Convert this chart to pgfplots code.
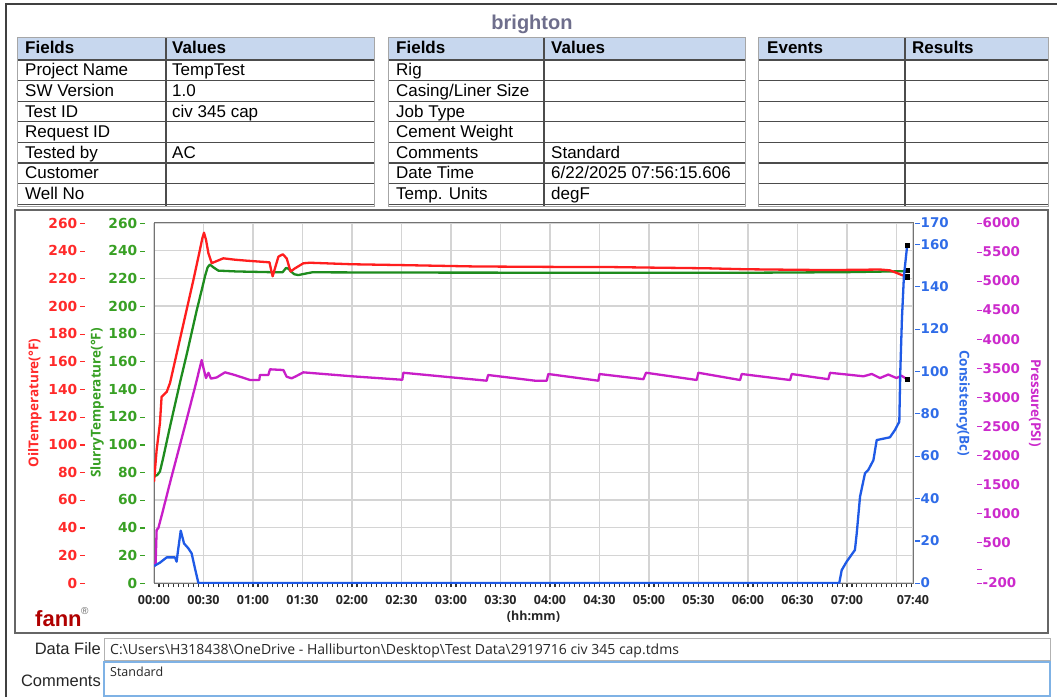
\documentclass[border=0pt]{standalone}
\usepackage{pgfplots}
\pgfplotsset{compat=1.18}
\usepackage{fontspec}
\setmainfont{Liberation Sans}
\newfontfamily\osans{Open Sans}
\newfontfamily\dvs{DejaVu Sans}
\newcommand\fs[1]{\fontsize{#1}{#1}\selectfont}
\definecolor{cRed}{HTML}{FF1E1E}
\definecolor{cGreen}{HTML}{1E8C1E}
\definecolor{cBlue}{HTML}{1F5AE6}
\definecolor{cMag}{HTML}{C81EC8}
\definecolor{tRed}{HTML}{FF2A2A}
\definecolor{tGreen}{HTML}{38A024}
\definecolor{tBlue}{HTML}{2F6CE8}
\definecolor{tMag}{HTML}{CC2ACC}
\definecolor{hdr}{HTML}{C7D7EE}
\definecolor{ttl}{HTML}{6E6E8C}
\definecolor{fannred}{HTML}{B00000}
\definecolor{gridc}{HTML}{D4D4D4}
\definecolor{cbox}{HTML}{7FB2E5}
\newcommand\tmL{\hspace{3pt}\rule[4pt]{4.5pt}{1.2pt}}
\newcommand\tmR{\rule[4pt]{4.5pt}{1.2pt}\hspace{1pt}}
\newcommand\tabfont{\fs{17}}
\newcommand\tablebox[3]{%
 \fill[hdr] (#1,38) rectangle (#2,60);
 \foreach \yy in {60,80.6,101.2,121.8,142.4,163,183.6,204.2} \draw[black!70, line width=1.3pt] (#1,\yy) -- (#2,\yy);
 \draw[black!70, line width=1.3pt] (#3,38) -- (#3,207);
 \draw[black!35, line width=1pt] (#1,38) rectangle (#2,207);
}
\newcommand\cell[3]{\node[anchor=base west, inner sep=0pt, font=\tabfont] at (#1,#2) {#3};}
\newcommand\hcell[3]{\node[anchor=base west, inner sep=0pt, font=\tabfont\bfseries] at (#1,#2) {#3};}
\pgfplotsset{base/.style={scale only axis, width=759pt, height=360pt, at={(154pt,114pt)}, anchor=south west,
  xmin=0, xmax=460, major tick length=0pt, tick align=outside,
  /pgf/number format/assume math mode=true, /pgf/number format/1000 sep={}}}
\begin{document}
\begin{tikzpicture}[x=1pt,y=1pt]
\path[use as bounding box] (0,0) rectangle (1057,697);
\fill[white] (0,0) rectangle (1057,697);
\begin{scope}[shift={(0,697)}, yscale=-1]
 % outer frame
 \draw[black!75, line width=1.2pt] (6,697) -- (6,4) -- (1057,4);
 % title
 \node[anchor=base, inner sep=0pt, font=\fs{20}\bfseries, text=ttl] at (532,29.5) {brighton};
 % tables
 \tablebox{17}{374}{166}
 \tablebox{388}{745}{544}
 \tablebox{758}{1048}{905}
 \hcell{25}{54}{Fields}\hcell{172}{54}{Values}
 \cell{25}{76}{Project Name}\cell{172}{76}{TempTest}
 \cell{25}{96.6}{SW Version}\cell{172}{96.6}{1.0}
 \cell{25}{117.2}{Test ID}\cell{172}{117.2}{civ 345 cap}
 \cell{25}{137.8}{Request ID}
 \cell{25}{158.4}{Tested by}\cell{172}{158.4}{AC}
 \cell{25}{179}{Customer}
 \cell{25}{199.6}{Well No}
 \hcell{396}{54}{Fields}\hcell{551}{54}{Values}
 \cell{396}{76}{Rig}
 \cell{396}{96.6}{Casing/Liner Size}
 \cell{396}{117.2}{Job Type}
 \cell{396}{137.8}{Cement Weight}
 \cell{396}{158.4}{Comments}\cell{551}{158.4}{Standard}
 \cell{396}{179}{Date Time}\cell{551}{179}{6/22/2025 07:56:15.606}
 \cell{396}{199.6}{Temp. Units}\cell{551}{199.6}{degF}
 \hcell{767}{54}{Events}\hcell{912}{54}{Results}
 % chart box
 \draw[black!60, line width=1.5pt] (15,210) rectangle (1048,633);
 % fann logo
 \node[anchor=base west, inner sep=0pt, font=\fs{22}\bfseries, text=fannred] at (35,626) {fann};
 \node[anchor=base west, inner sep=0pt, font=\fs{10}, text=black!60] at (81,614) {\textregistered};
 % bottom boxes
 \draw[black!30, line width=0.8pt] (104,638) rectangle (1050,660);
 \draw[cbox, line width=1.2pt] (104,662) rectangle (1050,696);
 \node[anchor=base east, inner sep=0pt, font=\fs{16.5}, text=black!85] at (101,654) {Data File};
 \node[anchor=base east, inner sep=0pt, font=\fs{16.5}, text=black!85] at (101,686) {Comments};
 \node[anchor=base west, inner sep=0pt, font=\osans\fs{14}, text=black!85] at (110,654) {C:\textbackslash Users\textbackslash H318438\textbackslash OneDrive - Halliburton\textbackslash Desktop\textbackslash Test Data\textbackslash 2919716 civ 345 cap.tdms};
 \node[anchor=base west, inner sep=0pt, font=\osans\fs{12.5}, text=black!85] at (110,676) {Standard};
\end{scope}

% Axis 1: grid, frame, x ticks, green y ticks
\begin{axis}[base, ymin=0, ymax=260,
  grid=major, grid style={gridc, line width=1.2pt},
  axis line style={draw=black!55, line width=1pt},
  xtick={0,30,60,90,120,150,180,210,240,270,300,330,360,390,420,450,460},
  xticklabels={00:00,00:30,01:00,01:30,02:00,02:30,03:00,03:30,04:00,04:30,05:00,05:30,06:00,06:30,07:00,,07:40},
  xminorticks=true, minor xtick={3,6,...,459}, minor tick length=4pt, xtick pos=bottom, ytick pos=left,
  minor tick style={draw=black!80, line width=1.1pt},
  xticklabel style={font=\osans\bfseries\fs{12.5}, text=black!85, inner sep=0pt, anchor=north, yshift=-12pt},
  xlabel={(hh:mm)}, xlabel style={at={(axis description cs:0.5,0)}, anchor=center, yshift=-34pt, font=\osans\bfseries\fs{12.5}, text=black!85},
  ytick={0,20,40,60,80,100,120,140,160,180,200,220,240,260},
  yticklabels={0\tmL,20\tmL,40\tmL,60\tmL,80\tmL,100\tmL,120\tmL,140\tmL,160\tmL,180\tmL,200\tmL,220\tmL,240\tmL,260\tmL},
  yticklabel style={font=\dvs\bfseries\fs{13.8}, text=tGreen, anchor=east, inner sep=0pt, xshift=-9pt},
  ylabel={SlurryTemperature(°F)}, ylabel style={at={(axis description cs:-0.0751,0.5)}, anchor=center, font=\osans\bfseries\fs{13.5}, text=tGreen},
]
\end{axis}

% Axis 4: pressure (magenta)
\begin{axis}[base, hide x axis, axis y line*=right, axis line style={draw=none},
  ymin=-200, ymax=6000,
  ytick={-200,0,500,1000,1500,2000,2500,3000,3500,4000,4500,5000,5500,6000},
  yticklabels={\tmR-200,\tmR,\tmR500,\tmR1000,\tmR1500,\tmR2000,\tmR2500,\tmR3000,\tmR3500,\tmR4000,\tmR4500,\tmR5000,\tmR5500,\tmR6000},
  yticklabel style={font=\dvs\bfseries\fs{13.4}, text=tMag, anchor=west, inner sep=0pt, xshift=64pt},
  ylabel={Pressure(PSI)}, ylabel style={at={(axis description cs:1.1607,0.5)}, anchor=center, rotate=180, font=\osans\bfseries\fs{13.5}, text=tMag},
]
\addplot[cMag, line width=2.3pt, line join=round] coordinates {
(0,80)(1,150)(1.6,713)(2.6,742)(5,1000)(10,1560)(15,2100)(20,2640)(25,3190)(28.9,3640)
(30,3500)(31.5,3330)(33,3420)(34.5,3320)(38,3340)(43,3428)(48,3390)(52.1,3353)(58.2,3296)(63.8,3296)
(64.2,3382)(69.3,3382)(70.3,3480)(78.4,3468)(80.4,3353)(83.4,3325)(86,3360)(90.5,3428)
(120,3360)(150.5,3300)(151.1,3421)(201.6,3284)(202.5,3382)(231,3284)(238,3284)(239,3399)
(269.3,3284)(270,3399)(296.6,3310)(298.2,3421)(328.9,3296)(329.9,3421)(355.2,3296)(356.2,3399)
(385.5,3296)(386.5,3399)(408.7,3310)(409.7,3420)(420,3390)(430,3360)(435,3400)(440,3330)
(445,3390)(450,3330)(453,3370)(456.5,3308)};
\addplot[only marks, mark=square*, mark size=2.3pt, black] coordinates {(456.5,3308)};
\end{axis}

% Axis 2: oil temperature labels, red and green curves
\begin{axis}[base, hide x axis, axis y line*=left, axis line style={draw=none},
  ymin=0, ymax=260,
  ytick={0,20,40,60,80,100,120,140,160,180,200,220,240,260},
  yticklabels={0\tmL,20\tmL,40\tmL,60\tmL,80\tmL,100\tmL,120\tmL,140\tmL,160\tmL,180\tmL,200\tmL,220\tmL,240\tmL,260\tmL},
  yticklabel style={font=\dvs\bfseries\fs{13.8}, text=tRed, anchor=east, inner sep=0pt, xshift=-69pt},
  ylabel={OilTemperature(°F)}, ylabel style={at={(axis description cs:-0.1568,0.5)}, anchor=center, font=\osans\bfseries\fs{13.5}, text=tRed},
]
\addplot[cGreen, line width=2.3pt, line join=round] coordinates {
(0,77)(2,78)(3.6,80.5)(5.5,90)(9.7,113)(15.8,145)(20,166)(25.9,197)(29,212)(31,222)(32.5,228)(33.9,230)
(36,228)(39,225.6)(50,225)(70,224.5)(78,224.5)(80,227.5)(81.5,227)(83,225)(85,223)(87.5,222.4)
(92,223.5)(96,224.4)(150,224.2)(250,224.1)(350,224)(420,224.5)(456.5,225.2)};
\addplot[cRed, line width=2.3pt, line join=round] coordinates {
(0,73)(1.6,96)(3.6,115.5)(4.6,134.5)(7.7,138)(9.7,144.4)(16,177.5)(20,198.5)(24,219.5)(27.9,241)(29.3,249)(30.3,253)
(31.5,248)(33,238)(35,231)(38,232.5)(42,234.5)(49,233.5)(56,232.8)(63,232.2)(70,231.6)(71,226)(71.9,221.5)
(73,226)(75.4,235.7)(78,237.4)(80.4,234.5)(82,228)(82.8,225)(85.5,227.3)(90.5,230.9)(94.5,231.3)
(120,230.2)(150,229.6)(195,228.6)(240,228.3)(276,228.2)(300,227.8)(335,227.3)(358,226.6)(390,226.2)
(410,226)(440,226.4)(446,225.8)(450,224)(453,222.5)(456.5,221.2)};
\addplot[only marks, mark=square*, mark size=2.3pt, black] coordinates {(456.5,225.8)(456.5,221.2)};
\end{axis}

% Axis 3: consistency (blue)
\begin{axis}[base, hide x axis, axis y line*=right, axis line style={draw=none},
  ymin=0, ymax=170,
  ytick={0,20,40,60,80,100,120,140,160,170},
  yticklabels={\tmR0,\tmR20,\tmR40,\tmR60,\tmR80,\tmR100,\tmR120,\tmR140,\tmR160,\tmR170},
  yticklabel style={font=\dvs\bfseries\fs{13.4}, text=tBlue, anchor=west, inner sep=0pt, xshift=2pt},
  ylabel={Consistency(Bc)}, ylabel style={at={(axis description cs:1.0659,0.5)}, anchor=center, rotate=180, font=\osans\bfseries\fs{13.5}, text=tBlue},
]
\addplot[cBlue, line width=2.3pt, line join=round] coordinates {
(0,8)(3.6,9.6)(7.7,12.1)(12.7,12.1)(13.7,10.1)(14.5,15)(16.2,24.7)(18.2,18.7)(19.5,17.5)(20.8,16.4)
(22.8,14)(24.8,7)(26.9,0)(415.3,0)(416.8,6.1)(419.8,10.1)(424.8,15.6)(425.9,23.5)(427.9,40.8)
(430.9,51.8)(432.9,53.4)(436,58)(438,67.5)(446,68.8)(449.1,72.3)(451.7,76.2)(452.3,100)(453.3,125)
(454.5,145)(456.5,159.6)};
\addplot[only marks, mark=square*, mark size=2.3pt, black] coordinates {(456.5,159.6)};
\end{axis}
\end{tikzpicture}
\end{document}
